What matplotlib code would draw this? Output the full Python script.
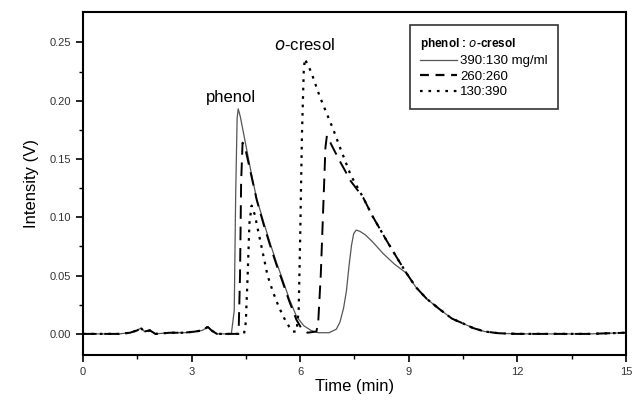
import matplotlib
matplotlib.use("Agg")
import matplotlib.pyplot as plt
from matplotlib.lines import Line2D

plt.rcParams['font.family'] = ['Liberation Sans', 'DejaVu Sans']

# ---- data ----
base_t = [0.0, 0.5, 1.0, 1.3, 1.5, 1.6, 1.7, 1.85, 2.0, 2.4, 2.8, 3.1, 3.3, 3.45, 3.55, 3.7]
base_y = [0.0, 0.0, 0.0, 0.001, 0.003, 0.005, 0.002, 0.003, 0.0, 0.001, 0.001, 0.002, 0.003, 0.006, 0.003, 0.0]

tail_t = [9.2, 9.5, 9.86, 10.2, 10.5, 10.78, 11.1, 11.5, 12.0, 13.0, 14.0, 15.0]
tail_y = [0.040, 0.030, 0.021, 0.013, 0.009, 0.005, 0.002, 0.0005, 0.0, 0.0, 0.0, 0.001]

# 390:130 mg/ml (solid)
t_solid = base_t + [4.1, 4.18, 4.22, 4.26, 4.29, 4.35, 4.5, 4.65, 4.8, 5.0, 5.2, 5.35, 5.5, 5.7, 5.9,
                    6.1, 6.3, 6.5, 6.8, 7.0, 7.1, 7.2, 7.28, 7.35, 7.42, 7.48, 7.55, 7.65, 7.8, 8.0,
                    8.29, 8.6, 8.94] + tail_t
y_solid = base_y + [0.0, 0.02, 0.12, 0.185, 0.193, 0.186, 0.162, 0.138, 0.116, 0.095, 0.075, 0.061, 0.048, 0.030, 0.015,
                    0.007, 0.003, 0.001, 0.001, 0.004, 0.010, 0.022, 0.037, 0.058, 0.076, 0.086, 0.089, 0.088, 0.085, 0.079,
                    0.069, 0.060, 0.052] + tail_y

# 260:260 (dashed)
t_dash = base_t + [4.3, 4.34, 4.37, 4.41, 4.5, 4.65, 4.8, 5.0, 5.2, 5.35, 5.5, 5.7, 5.9, 6.05, 6.2,
                   6.45, 6.5, 6.57, 6.64, 6.7, 6.74, 6.9, 7.1, 7.4, 7.74, 8.0, 8.39, 8.7, 8.94] + tail_t
y_dash = base_y + [0.0, 0.05, 0.13, 0.164, 0.157, 0.136, 0.115, 0.093, 0.073, 0.059, 0.046, 0.028, 0.012, 0.004, 0.001,
                   0.002, 0.01, 0.05, 0.109, 0.160, 0.170, 0.160, 0.148, 0.131, 0.117, 0.101, 0.080, 0.064, 0.052] + tail_y

# 130:390 (dotted)
t_dot = base_t + [4.45, 4.5, 4.55, 4.6, 4.66, 4.75, 4.85, 5.0, 5.1, 5.25, 5.4, 5.55, 5.7, 5.8, 5.9,
                  5.96, 6.0, 6.05, 6.1, 6.13, 6.3, 6.55, 6.92, 7.1, 7.4, 7.74, 8.0, 8.39, 8.7, 8.94] + tail_t
y_dot = base_y + [0.0, 0.01, 0.05, 0.095, 0.11, 0.102, 0.087, 0.065, 0.050, 0.036, 0.024, 0.014, 0.006, 0.002, 0.002,
                  0.02, 0.08, 0.17, 0.225, 0.236, 0.225, 0.203, 0.175, 0.160, 0.136, 0.117, 0.101, 0.080, 0.064, 0.052] + tail_y

series_labels = ['390:130 mg/ml', '260:260', '130:390']
x_ticks = [0, 3, 6, 9, 12, 15]
y_ticks = [0.00, 0.05, 0.10, 0.15, 0.20, 0.25]

fig = plt.figure(figsize=(6.38, 4.17), dpi=100)
ax = fig.add_axes([0.130, 0.149, 0.851, 0.822])

ax.plot(t_solid, y_solid, color='#555555', lw=0.9, ls='-')
ax.plot(t_dash, y_dash, color='black', lw=1.4, ls=(0, (7, 4)))
ax.plot(t_dot, y_dot, color='black', lw=1.6, ls=(0, (1.2, 2.6)))

ax.set_xlim(0, 15)
ax.set_ylim(-0.018, 0.276)
ax.set_xticks(x_ticks)
ax.set_xticklabels([str(v) for v in x_ticks])
ax.set_yticks(y_ticks)
ax.set_yticklabels([f'{v:.2f}' for v in y_ticks])
ax.set_xticks([1.5, 4.5, 7.5, 10.5, 13.5], minor=True)
ax.set_yticks([0.025, 0.075, 0.125, 0.175, 0.225], minor=True)
ax.tick_params(which='major', direction='out', length=5, width=1.2, labelsize=8, labelcolor='#333333')
ax.tick_params(which='minor', direction='out', length=3, width=1.0)
for s in ax.spines.values():
    s.set_linewidth(1.5)

ax.set_xlabel('Time (min)', fontsize=12, labelpad=2)
ax.set_ylabel('Intensity (V)', fontsize=12, labelpad=8)

ax.text(4.1, 0.203, 'phenol', fontsize=12, ha='center', va='center')
ax.text(6.13, 0.248, r'$\it{o}$-cresol', fontsize=12, ha='center', va='center')

handles = [Line2D([], [], color='#555555', lw=0.9, ls='-'),
           Line2D([], [], color='black', lw=1.6, ls=(0, (4, 3))),
           Line2D([], [], color='black', lw=1.6, ls=(0, (1.2, 2.6)))]
leg = ax.legend(handles, series_labels, loc='upper left', bbox_to_anchor=(0.602, 0.962),
                fontsize=9.5, frameon=True, fancybox=False, edgecolor='black',
                handlelength=2.8, handletextpad=0.2, labelspacing=0.25,
                borderpad=0.8, borderaxespad=0.0,
                title=r'phenol : $\mathbf{\it{o}}$-cresol',
                title_fontproperties={'weight': 'bold', 'size': 8.5})
leg._legend_box.align = 'left'
leg.get_frame().set_linewidth(1.2)

fig.savefig('out.png', dpi=100)
